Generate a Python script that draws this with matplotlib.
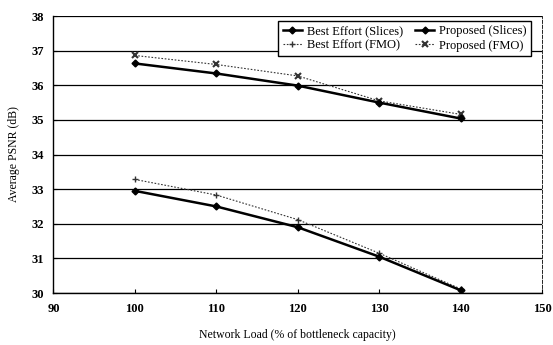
import matplotlib
matplotlib.use("Agg")
import matplotlib.pyplot as plt

load = [100, 110, 120, 130, 140]
best_effort_slices = [32.95, 32.50, 31.90, 31.05, 30.08]
proposed_slices = [36.63, 36.34, 35.99, 35.50, 35.04]
best_effort_fmo = [33.28, 32.83, 32.12, 31.15, 30.12]
proposed_fmo = [36.86, 36.60, 36.27, 35.55, 35.16]

x_ticks = [90, 100, 110, 120, 130, 140, 150]
y_ticks = [30, 31, 32, 33, 34, 35, 36, 37, 38]

plt.rcParams['font.family'] = ['Liberation Serif', 'DejaVu Serif']

fig = plt.figure(figsize=(5.53, 3.45), dpi=100)
ax = fig.add_axes([0.0967, 0.1507, 0.8833, 0.8029])

h1, = ax.plot(load, best_effort_slices, color='black', lw=1.8, marker='D', ms=3.5,
              label='Best Effort (Slices)', zorder=4)
h2, = ax.plot(load, proposed_slices, color='black', lw=1.8, marker='D', ms=3.5,
              label='Proposed (Slices)', zorder=4)
h3, = ax.plot(load, best_effort_fmo, color='#333333', lw=0.8, ls=(0, (1.5, 1.5)), marker='+', ms=4,
              label='Best Effort (FMO)', zorder=3)
h4, = ax.plot(load, proposed_fmo, color='#333333', lw=0.8, ls=(0, (1.5, 1.5)), marker='x', ms=4,
              mew=1.5, label='Proposed (FMO)', zorder=3)

ax.set_xlim(90, 150)
ax.set_ylim(30, 38)
ax.set_xticks(x_ticks)
ax.set_yticks(y_ticks)
ax.yaxis.grid(True, color='black', lw=0.9)
ax.set_axisbelow(True)
for s in ['left', 'bottom']:
    ax.spines[s].set_linewidth(1.0)
for s in ['top', 'right']:
    ax.spines[s].set_linewidth(0.6)
    ax.spines[s].set_linestyle((0, (4, 2)))
ax.tick_params(axis='both', direction='in', length=3, width=0.8, labelsize=9, pad=7)
for lbl in ax.get_xticklabels() + ax.get_yticklabels():
    lbl.set_fontweight('bold')

ax.set_xlabel('Network Load (% of bottleneck capacity)', fontsize=8.5, labelpad=10)
ax.set_ylabel('Average PSNR (dB)', fontsize=8.5, labelpad=8)

leg = ax.legend([h1, h3, h2, h4],
                ['Best Effort (Slices)', 'Best Effort (FMO)', 'Proposed (Slices)', 'Proposed (FMO)'],
                loc='upper right', ncol=2, frameon=True, fancybox=False,
                edgecolor='black', framealpha=1, borderpad=0.35, handlelength=1.5,
                handletextpad=0.4, columnspacing=1.0, labelspacing=0.2,
                bbox_to_anchor=(0.99, 1.005), prop={'size': 9})
leg.get_frame().set_linewidth(1.0)

fig.savefig('out.png', dpi=100)
